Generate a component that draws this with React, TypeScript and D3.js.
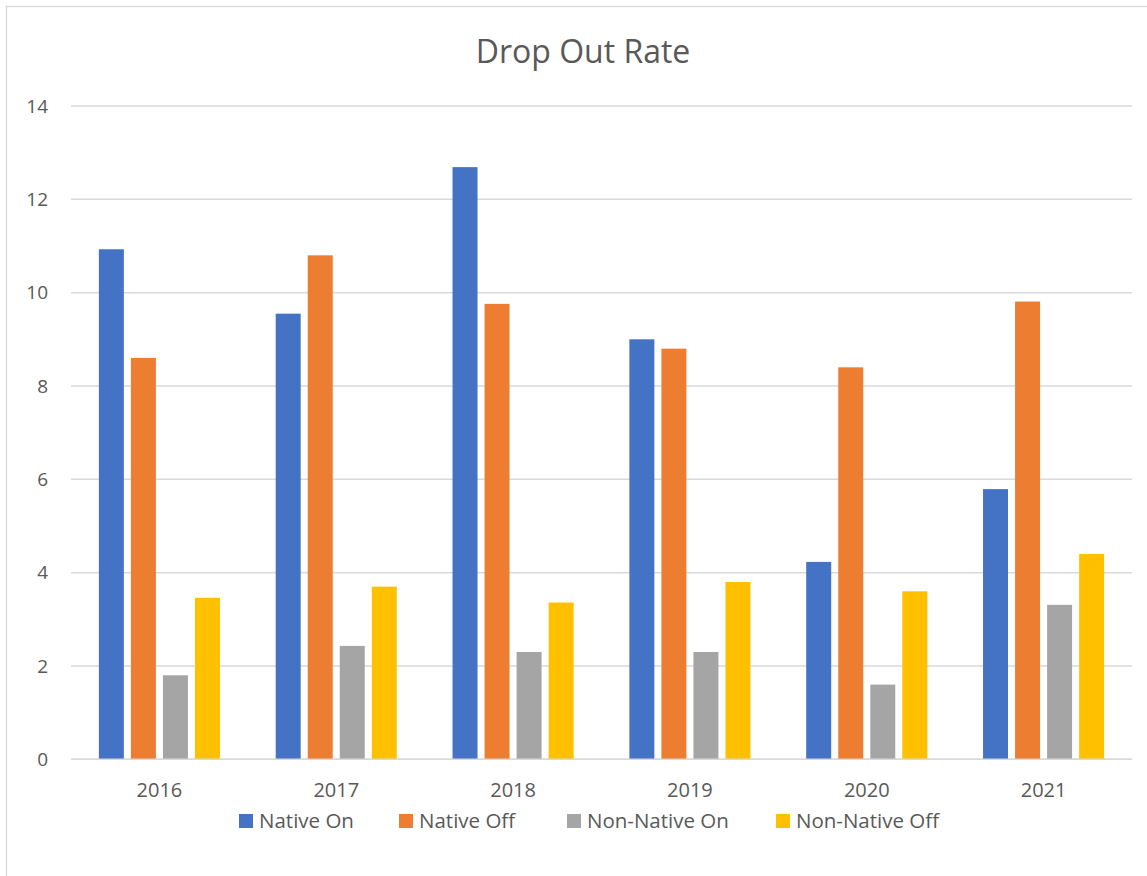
import React from "react";
import * as d3 from "d3";

const categories = ["2016", "2017", "2018", "2019", "2020", "2021"];
const seriesNames = ["Native On", "Native Off", "Non-Native On", "Non-Native Off"];
const nativeOn = [10.93, 9.55, 12.69, 9.0, 4.23, 5.79];
const nativeOff = [8.6, 10.8, 9.76, 8.8, 8.4, 9.81];
const nonNativeOn = [1.8, 2.43, 2.3, 2.3, 1.6, 3.31];
const nonNativeOff = [3.46, 3.7, 3.36, 3.8, 3.6, 4.4];
const colors = ["#4472C4", "#ED7D31", "#A5A5A5", "#FFC000"];
const yTicks = [0, 2, 4, 6, 8, 10, 12, 14];

const seriesValues = [nativeOn, nativeOff, nonNativeOn, nonNativeOff];

export default function App() {
  const W = 1147;
  const H = 876;
  const left = 71;
  const right = 1132;
  const top = 106;
  const bottom = 759.3;
  const font = "'Open Sans', 'Noto Sans', sans-serif";
  const textColor = "#595959";

  const x0 = d3.scaleBand<string>().domain(categories).range([left, right]).paddingInner(0).paddingOuter(0);
  const x1 = d3
    .scaleBand<string>()
    .domain(seriesNames)
    .range([0, x0.bandwidth()])
    .paddingInner(0.22)
    .paddingOuter(0.87);
  const y = d3.scaleLinear().domain([0, 14]).range([bottom, top]);

  const legendItems = [
    { name: seriesNames[0], sx: 239, tx: 259 },
    { name: seriesNames[1], sx: 399, tx: 419 },
    { name: seriesNames[2], sx: 567, tx: 587 },
    { name: seriesNames[3], sx: 776, tx: 796 },
  ];

  return (
    <div style={{ position: "absolute", left: 0, top: 0 }}>
      <svg width={W} height={H} style={{ display: "block", background: "#fff" }}>
        <rect x={6.5} y={6.5} width={W + 20} height={H + 20} fill="#fff" stroke="#d9d9d9" strokeWidth={1.3} />
        <text x={583} y={63} textAnchor="middle" fontFamily={font} fontSize={32} fill={textColor}>
          Drop Out Rate
        </text>
        {yTicks.map((t) => (
          <g key={t}>
            <line x1={left} x2={right} y1={y(t)} y2={y(t)} stroke="#d9d9d9" strokeWidth={1.5} />
            <text
              x={48}
              y={y(t)}
              dy="0.35em"
              textAnchor="end"
              fontFamily={font}
              fontSize={19}
              fill={textColor}
            >
              {t}
            </text>
          </g>
        ))}
        {categories.map((c, ci) => (
          <g key={c}>
            {seriesNames.map((s, si) => {
              const v = seriesValues[si][ci];
              return (
                <rect
                  key={s}
                  x={(x0(c) as number) + (x1(s) as number)}
                  y={y(v)}
                  width={x1.bandwidth()}
                  height={y(0) - y(v)}
                  fill={colors[si]}
                />
              );
            })}
            <text
              x={(x0(c) as number) + x0.bandwidth() / 2}
              y={797}
              textAnchor="middle"
              fontFamily={font}
              fontSize={20}
              fill={textColor}
            >
              {c}
            </text>
          </g>
        ))}
        <line x1={left} x2={right} y1={y(0)} y2={y(0)} stroke="#d9d9d9" strokeWidth={1.5} />
        {legendItems.map((it, i) => (
          <g key={it.name}>
            <rect x={it.sx} y={814} width={14} height={14} fill={colors[i]} />
            <text x={it.tx} y={828} fontFamily={font} fontSize={20.5} fill={textColor}>
              {it.name}
            </text>
          </g>
        ))}
      </svg>
    </div>
  );
}
